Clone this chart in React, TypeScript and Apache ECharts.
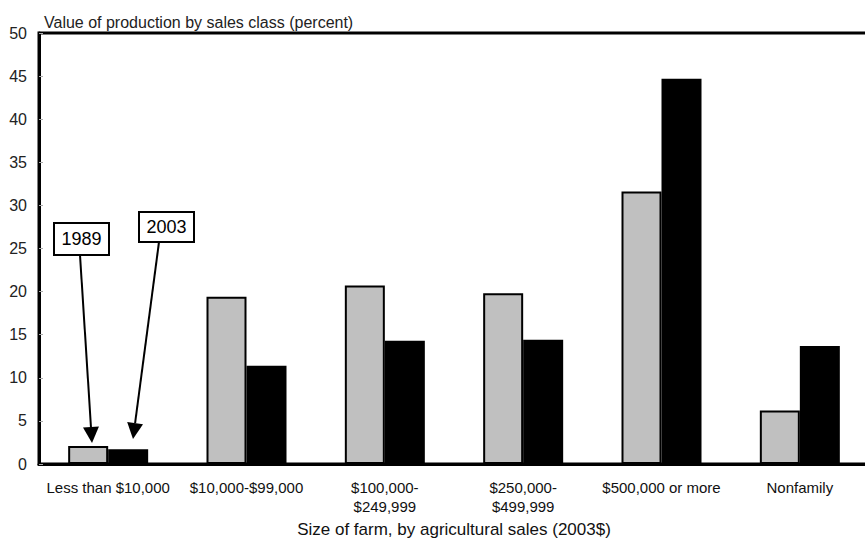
import React, { useEffect, useRef } from "react";
import * as echarts from "echarts";

const categories = [
  "Less than $10,000",
  "$10,000-$99,000",
  "$100,000-\n$249,999",
  "$250,000-\n$499,999",
  "$500,000 or more",
  "Nonfamily",
];
const values1989 = [2.1, 19.4, 20.7, 19.8, 31.6, 6.2];
const values2003 = [1.7, 11.4, 14.3, 14.4, 44.7, 13.7];
const yTicks = { min: 0, max: 50, interval: 5 };

const FONT = "'Liberation Sans', Arial, sans-serif";

function arrow(x1: number, y1: number, x2: number, y2: number) {
  const dx = x2 - x1;
  const dy = y2 - y1;
  const len = Math.sqrt(dx * dx + dy * dy);
  const ux = dx / len;
  const uy = dy / len;
  const headLen = 16;
  const halfW = 8;
  const bx = x2 - ux * headLen;
  const by = y2 - uy * headLen;
  const px = -uy;
  const py = ux;
  return [
    {
      type: "line",
      shape: { x1, y1, x2: bx, y2: by },
      style: { stroke: "#000", lineWidth: 2 },
      z: 100,
    },
    {
      type: "polygon",
      shape: {
        points: [
          [x2, y2],
          [bx + px * halfW, by + py * halfW],
          [bx - px * halfW, by - py * halfW],
        ],
      },
      style: { fill: "#000" },
      z: 100,
    },
  ];
}

function labelBox(x: number, y: number, w: number, h: number, text: string) {
  return [
    {
      type: "rect",
      shape: { x, y, width: w, height: h },
      style: { fill: "#fff", stroke: "#000", lineWidth: 2 },
      z: 100,
    },
    {
      type: "text",
      x: x + w / 2,
      y: y + h / 2,
      style: {
        text,
        fill: "#000",
        font: `18px ${FONT}`,
        align: "center",
        verticalAlign: "middle",
      },
      z: 101,
    },
  ];
}

export default function App() {
  const ref = useRef<HTMLDivElement>(null);
  useEffect(() => {
    if (!ref.current) return;
    const chart = echarts.init(ref.current, undefined, { renderer: "svg" });
    chart.setOption({
      animation: false,
      backgroundColor: "#fff",
      title: {
        text: "Value of production by sales class (percent)",
        left: 39,
        top: 9,
        textStyle: {
          fontFamily: FONT,
          fontSize: 16,
          fontWeight: "normal",
          color: "#222",
        },
      },
      grid: {
        left: 39,
        right: -4,
        top: 33,
        bottom: 78,
        outerBoundsMode: "none",
        containLabel: false,
        show: true,
        borderColor: "#000",
        borderWidth: 3,
      },
      xAxis: {
        type: "category",
        data: categories,
        name: "Size of farm, by agricultural sales (2003$)",
        nameLocation: "middle",
        nameGap: 57,
        nameTextStyle: { fontFamily: FONT, fontSize: 17, color: "#111" },
        axisLine: { lineStyle: { color: "#000", width: 3 } },
        axisTick: { inside: true, length: 4, lineStyle: { color: "#aaa" } },
        axisLabel: {
          fontFamily: FONT,
          fontSize: 15,
          color: "#111",
          margin: 14,
          lineHeight: 19,
          interval: 0,
        },
      },
      yAxis: {
        type: "value",
        min: yTicks.min,
        max: yTicks.max,
        interval: yTicks.interval,
        splitLine: { show: false },
        axisLine: { show: true, lineStyle: { color: "#000", width: 3 } },
        axisTick: { show: true, inside: true, length: 4, lineStyle: { color: "#aaa" } },
        axisLabel: { fontFamily: FONT, fontSize: 16, color: "#222", margin: 12 },
      },
      series: [
        {
          name: "1989",
          type: "bar",
          data: values1989,
          barWidth: 40,
          barGap: "0%",
          itemStyle: { color: "#c0c0c0", borderColor: "#000", borderWidth: 2 },
        },
        {
          name: "2003",
          type: "bar",
          data: values2003,
          barWidth: 40,
          barGap: "0%",
          itemStyle: { color: "#000", borderColor: "#000", borderWidth: 2 },
        },
      ],
      graphic: [
        ...arrow(80, 255, 92, 443),
        ...arrow(159, 242, 133, 439),
        ...labelBox(54, 223, 55, 32, "1989"),
        ...labelBox(139, 212, 55, 30, "2003"),
      ],
    });
    return () => chart.dispose();
  }, []);
  return (
    <div
      ref={ref}
      style={{ position: "fixed", left: 0, top: 0, width: 865, height: 542 }}
    />
  );
}
